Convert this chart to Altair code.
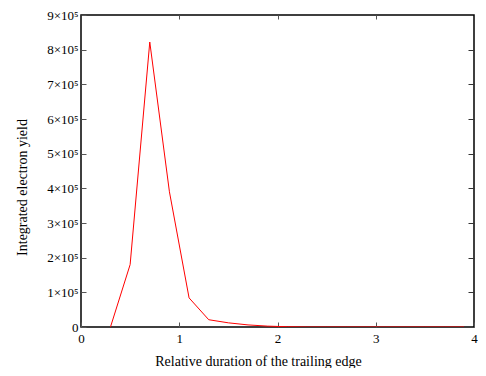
import altair as alt
import pandas as pd

x_vals = [0.3, 0.5, 0.7, 0.9, 1.1, 1.3, 1.5, 1.7, 1.9, 2.1, 2.3, 2.5, 2.7, 2.9,
          3.1, 3.3, 3.5, 3.7, 3.9]
y_vals = [0, 180000, 822000, 390000, 84000, 21000, 12000, 6000, 2500, 800, 0, 0,
          0, 0, 0, 0, 0, 0, 0]
x_ticks = [0, 1, 2, 3, 4]
y_ticks = [0, 100000, 200000, 300000, 400000, 500000, 600000, 700000, 800000, 900000]

df = pd.DataFrame({"x": x_vals, "y": y_vals})

FONT = "Liberation Serif"
xs = alt.Scale(domain=[0, 4], nice=False, zero=False)
ys = alt.Scale(domain=[0, 900000], nice=False)

main = alt.Chart(df).mark_line(color="#ff0000", strokeWidth=1, clip=True).encode(
    x=alt.X("x:Q", scale=xs,
            axis=alt.Axis(orient="bottom", values=x_ticks, grid=False, domain=False,
                          offset=-5, tickSize=5, tickColor="#555555", tickWidth=1,
                          labelPadding=5, labelFont=FONT, labelFontSize=13,
                          labelColor="black", labelFlush=False,
                          title="Relative duration of the trailing edge",
                          titleFont=FONT, titleFontSize=14, titleFontWeight="normal",
                          titleColor="black", titleX=177, titleY=43,
                          titleAlign="center", titleBaseline="alphabetic")),
    y=alt.Y("y:Q", scale=ys,
            axis=alt.Axis(orient="left", values=y_ticks, grid=False, domain=False,
                          offset=-5, tickSize=5, tickColor="#555555", tickWidth=1,
                          labelPadding=3, labelFont=FONT, labelFontSize=13,
                          labelColor="black", labelFlush=False,
                          labelExpr="datum.value == 0 ? '0' : format(datum.value / 100000, 'd') + '×10⁵'",
                          title="Integrated electron yield",
                          titleFont=FONT, titleFontSize=14, titleFontWeight="normal",
                          titleColor="black", titleX=-64, titleY=172,
                          titleAngle=270, titleAlign="center", titleBaseline="middle")),
)

mirror = alt.Chart(df).mark_line(opacity=0).encode(
    x=alt.X("x:Q", scale=xs,
            axis=alt.Axis(orient="top", values=[1, 2, 3], grid=False, domain=False,
                          offset=-4, tickSize=4, tickColor="#555555", labels=False,
                          title=None)),
    y=alt.Y("y:Q", scale=ys,
            axis=alt.Axis(orient="right", values=y_ticks[1:-1], grid=False, domain=False,
                          offset=-6, tickSize=6, tickColor="#333333", labels=False,
                          title=None)),
)

chart = alt.layer(main, mirror).resolve_axis(x="independent", y="independent").properties(
    width=393, height=312,
    background="white",
    autosize=alt.AutoSizeParams(type="none"),
    padding={"left": 73, "top": 7, "right": 4, "bottom": 41},
).configure_view(stroke="black", strokeWidth=1.5)

chart.save("out.html", embed_options={"renderer": "svg", "actions": False})
